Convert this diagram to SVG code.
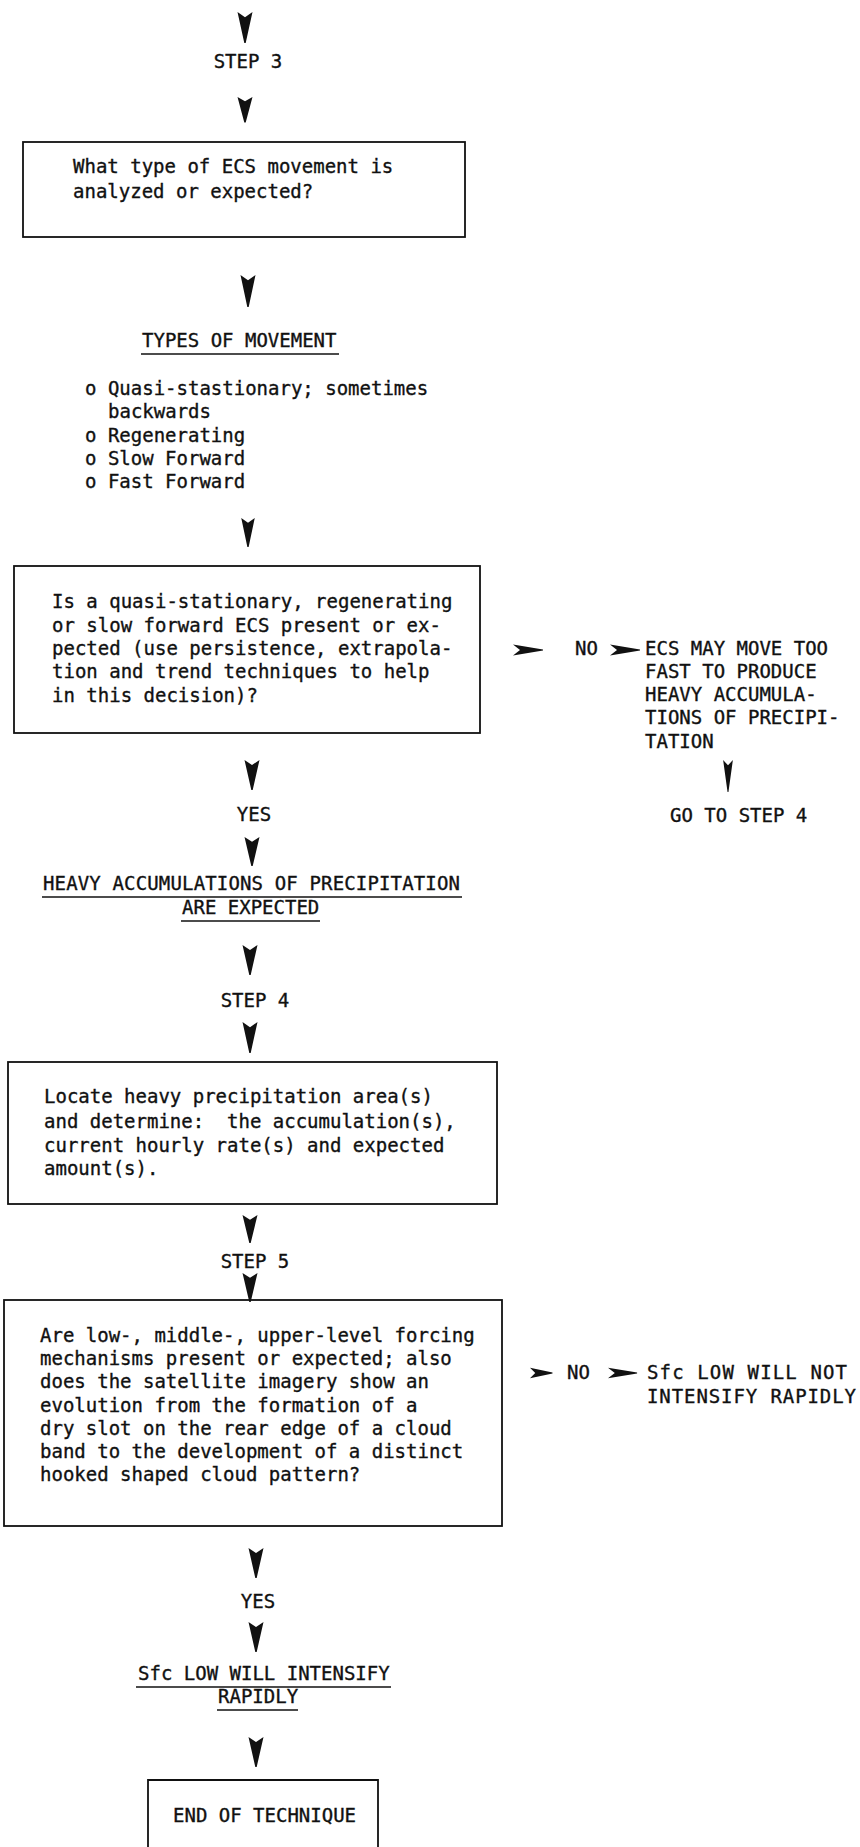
<svg xmlns="http://www.w3.org/2000/svg" xmlns:xlink="http://www.w3.org/1999/xlink" width="860" height="1847" viewBox="0 0 860 1847">
<style>
text{font-family:"DejaVu Sans Mono","Liberation Mono",monospace;font-size:19px;fill:#111;stroke:#111;stroke-width:0.35}
.c{text-anchor:middle}
.box{fill:none;stroke:#111;stroke-width:1.8}
.ul{stroke:#111;stroke-width:1.6}
.dart{fill:#111}
</style>
<defs>
<path id="dd" class="dart" d="M-7.5,0 L0,5 L7.5,0 L0.7,30 L-0.7,30 Z"/>
<path id="dr" class="dart" d="M0,-5.5 L7,0 L0,5.5 L30,0.6 L30,-0.6 Z"/>
</defs>
<rect width="860" height="1847" fill="#fff"/>

<g id="connectors">
<use xlink:href="#dd" transform="translate(245,12) scale(1,1.03)"/>
<use xlink:href="#dd" transform="translate(245,97) scale(1,0.85)"/>
<use xlink:href="#dd" transform="translate(248,275) scale(1,1.07)"/>
<use xlink:href="#dd" transform="translate(248,518) scale(0.9,0.97)"/>
<use xlink:href="#dd" transform="translate(252,760) scale(1,1)"/>
<use xlink:href="#dd" transform="translate(252,837) scale(1,0.97)"/>
<use xlink:href="#dd" transform="translate(250,945) scale(1,1)"/>
<use xlink:href="#dd" transform="translate(250,1022) scale(1,1.03)"/>
<use xlink:href="#dd" transform="translate(250,1215) scale(1,0.93)"/>
<use xlink:href="#dd" transform="translate(250,1273) scale(1,0.97)"/>
<use xlink:href="#dd" transform="translate(256,1548) scale(1,1)"/>
<use xlink:href="#dd" transform="translate(256,1622) scale(1,1)"/>
<use xlink:href="#dd" transform="translate(256,1737) scale(1,1)"/>
<use xlink:href="#dd" transform="translate(728,760) scale(0.65,1.07)"/>
<use xlink:href="#dr" transform="translate(513,650) scale(1,1)"/>
<use xlink:href="#dr" transform="translate(610,650) scale(1,1)"/>
<use xlink:href="#dr" transform="translate(530,1373) scale(0.75,0.95)"/>
<use xlink:href="#dr" transform="translate(608,1373) scale(0.97,0.95)"/>
</g>

<g id="step3">
<text x="248" y="68" class="c">STEP 3</text>
</g>

<g id="box-movement">
<rect class="box" x="23" y="142" width="442" height="95"/>
<text x="73" y="173">What type of ECS movement is</text>
<text x="73" y="198">analyzed or expected?</text>
</g>

<g id="types-of-movement">
<text x="142" y="347">TYPES OF MOVEMENT</text>
<line class="ul" x1="141" y1="354" x2="339" y2="354"/>
<text x="85" y="395">o Quasi-stastionary; sometimes</text>
<text x="108" y="418">backwards</text>
<text x="85" y="442">o Regenerating</text>
<text x="85" y="465">o Slow Forward</text>
<text x="85" y="488">o Fast Forward</text>
</g>

<g id="box-decision1">
<rect class="box" x="14" y="566" width="466" height="167"/>
<text x="52" y="608">Is a quasi-stationary, regenerating</text>
<text x="52" y="632">or slow forward ECS present or ex-</text>
<text x="52" y="655">pected (use persistence, extrapola-</text>
<text x="52" y="678">tion and trend techniques to help</text>
<text x="52" y="702">in this decision)?</text>
</g>

<g id="no1">
<text x="575" y="655">NO</text>
</g>

<g id="ecs-fast">
<text x="645" y="655">ECS MAY MOVE TOO</text>
<text x="645" y="678">FAST TO PRODUCE</text>
<text x="645" y="701">HEAVY ACCUMULA-</text>
<text x="645" y="724">TIONS OF PRECIPI-</text>
<text x="645" y="748">TATION</text>
</g>

<g id="goto4">
<text x="670" y="822">GO TO STEP 4</text>
</g>

<g id="yes1">
<text x="254" y="821" class="c">YES</text>
</g>

<g id="heavy-expected">
<text x="43" y="890" textLength="417">HEAVY ACCUMULATIONS OF PRECIPITATION</text>
<line class="ul" x1="42" y1="897" x2="462" y2="897"/>
<text x="182" y="914">ARE EXPECTED</text>
<line class="ul" x1="181" y1="921" x2="320" y2="921"/>
</g>

<g id="step4">
<text x="255" y="1007" class="c">STEP 4</text>
</g>

<g id="box-locate">
<rect class="box" x="8" y="1062" width="489" height="142"/>
<text x="44" y="1103" xml:space="preserve">Locate heavy precipitation area(s)</text>
<text x="44" y="1128" xml:space="preserve">and determine:  the accumulation(s),</text>
<text x="44" y="1152" xml:space="preserve">current hourly rate(s) and expected</text>
<text x="44" y="1175" xml:space="preserve">amount(s).</text>
</g>

<g id="step5">
<text x="255" y="1268" class="c">STEP 5</text>
</g>

<g id="box-decision2">
<rect class="box" x="4" y="1300" width="498" height="226"/>
<text x="40" y="1342">Are low-, middle-, upper-level forcing</text>
<text x="40" y="1365">mechanisms present or expected; also</text>
<text x="40" y="1388">does the satellite imagery show an</text>
<text x="40" y="1412">evolution from the formation of a</text>
<text x="40" y="1435">dry slot on the rear edge of a cloud</text>
<text x="40" y="1458">band to the development of a distinct</text>
<text x="40" y="1481">hooked shaped cloud pattern?</text>
</g>

<g id="no2">
<text x="567" y="1379">NO</text>
</g>

<g id="sfc-not">
<text x="647" y="1379" textLength="200">Sfc LOW WILL NOT</text>
<text x="647" y="1403" textLength="209">INTENSIFY RAPIDLY</text>
</g>

<g id="yes2">
<text x="258" y="1608" class="c">YES</text>
</g>

<g id="sfc-intensify">
<text x="138" y="1680">Sfc LOW WILL INTENSIFY</text>
<line class="ul" x1="136" y1="1687" x2="391" y2="1687"/>
<text x="218" y="1703">RAPIDLY</text>
<line class="ul" x1="217" y1="1710" x2="298" y2="1710"/>
</g>

<g id="end">
<path class="box" d="M148,1860 L148,1780 L378,1780 L378,1860"/>
<text x="173" y="1822">END OF TECHNIQUE</text>
</g>
</svg>
